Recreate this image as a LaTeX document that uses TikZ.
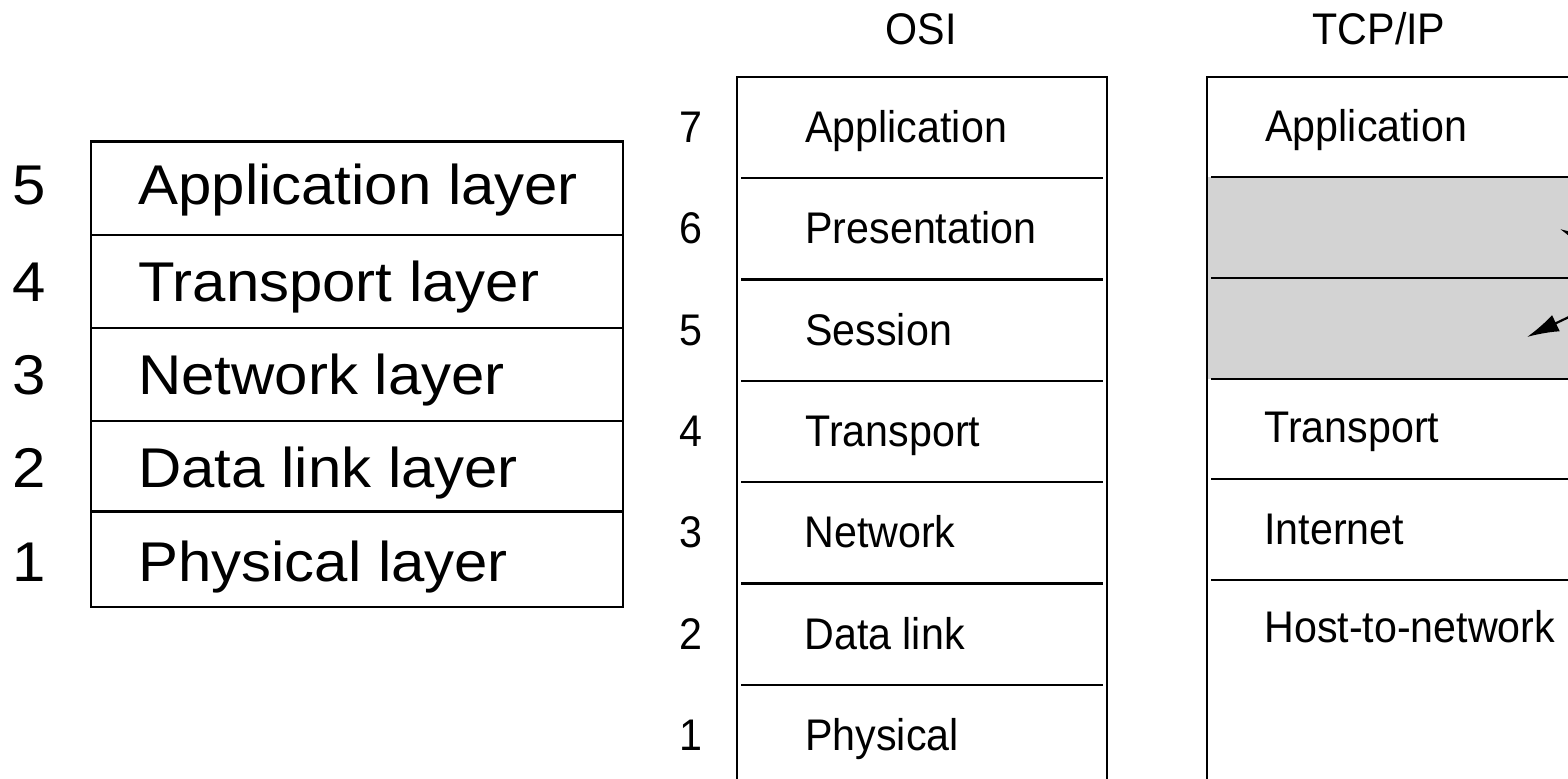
\documentclass[tikz,border=0pt]{standalone}
\usepackage{fontspec}
\setmainfont{Liberation Sans}
\newfontfamily\widefont[FakeStretch=1.07]{Liberation Sans}
\newfontfamily\narrowfont[FakeStretch=0.93]{Liberation Sans}
\usetikzlibrary{arrows.meta}
\definecolor{layergray}{RGB}{211,211,211}
\begin{document}
\begin{tikzpicture}[x=0.5pt,y=-0.5pt,
  frame/.style={line width=1.4pt},
  rule/.style={line width=1.2pt},
  bigtxt/.style={anchor=base west,inner sep=0pt,font=\widefont\fontsize{28}{30}\selectfont},
  bignum/.style={anchor=base,inner sep=0pt,font=\widefont\fontsize{28}{30}\selectfont},
  txt/.style={anchor=base west,inner sep=0pt,font=\narrowfont\fontsize{22.15}{24}\selectfont},
  num/.style={anchor=base,inner sep=0pt,font=\narrowfont\fontsize{22.15}{24}\selectfont},
  pointer/.style={line width=1.1pt,-{Latex[length=16pt,width=9pt]}}]
\useasboundingbox (0,0) rectangle (1568,779);
\clip (0,0) rectangle (1568,779);

% ---- hybrid five-layer model ----
\draw[frame] (91,141.7) rectangle (623,607);
\foreach \y in {235,328.3,421,511.7} \draw[rule] (91,\y) -- (623,\y);
\node[bigtxt] (h5) at (138,205)   {Application layer};
\node[bigtxt] (h4) at (138,301.5) {Transport layer};
\node[bigtxt] (h3) at (138,395)   {Network layer};
\node[bigtxt] (h2) at (138,488)   {Data link layer};
\node[bigtxt] (h1) at (138,581.5) {Physical layer};
\node[bignum] (hn5) at (29,205)   {5};
\node[bignum] (hn4) at (29,301.5) {4};
\node[bignum] (hn3) at (29,395)   {3};
\node[bignum] (hn2) at (29,488)   {2};
\node[bignum] (hn1) at (29,581.5) {1};

% ---- OSI reference model ----
\node[num] (osititle) at (921,45) {OSI};
\draw[frame] (737,77) rectangle (1107,820);
\foreach \y in {178.3,279.6,381,482.3,583.6,685} \draw[rule] (741,\y) -- (1103,\y);
\node[txt] (o7) at (805,142.6) {Application};
\node[txt] (o6) at (805,244)   {Presentation};
\node[txt] (o5) at (805,345.3) {Session};
\node[txt] (o4) at (805,446.6) {Transport};
\node[txt] (o3) at (804,548)   {Network};
\node[txt] (o2) at (804,649.3) {Data link};
\node[txt] (o1) at (805,750.6) {Physical};
\node[num] (on7) at (691,142.6) {7};
\node[num] (on6) at (691,244)   {6};
\node[num] (on5) at (691,345.3) {5};
\node[num] (on4) at (691,446.6) {4};
\node[num] (on3) at (691,548)   {3};
\node[num] (on2) at (691,649.3) {2};
\node[num] (on1) at (691,750.6) {1};

% ---- TCP/IP reference model ----
\node[num] (tcptitle) at (1379,45) {TCP/IP};
\fill[layergray] (1207,177) rectangle (1700,379);
\draw[frame] (1207,77) rectangle (1700,820);
\foreach \y in {177,278,379,479,580} \draw[rule] (1211,\y) -- (1700,\y);
\node[txt] (t4) at (1265,141.7) {Application};
\node[txt] (t3) at (1264,443)   {Transport};
\node[txt] (t2) at (1264,544.5) {Internet};
\node[txt] (t1) at (1264,643)   {Host-to-network};

% pointers into the two empty layers
\coordinate (note) at (1655,276);
\coordinate (gap6) at (1560,229);
\coordinate (gap5) at (1527,337);
\draw[pointer] (note) -- (gap6);
\draw[pointer] (note) -- (gap5);
\end{tikzpicture}
\end{document}
